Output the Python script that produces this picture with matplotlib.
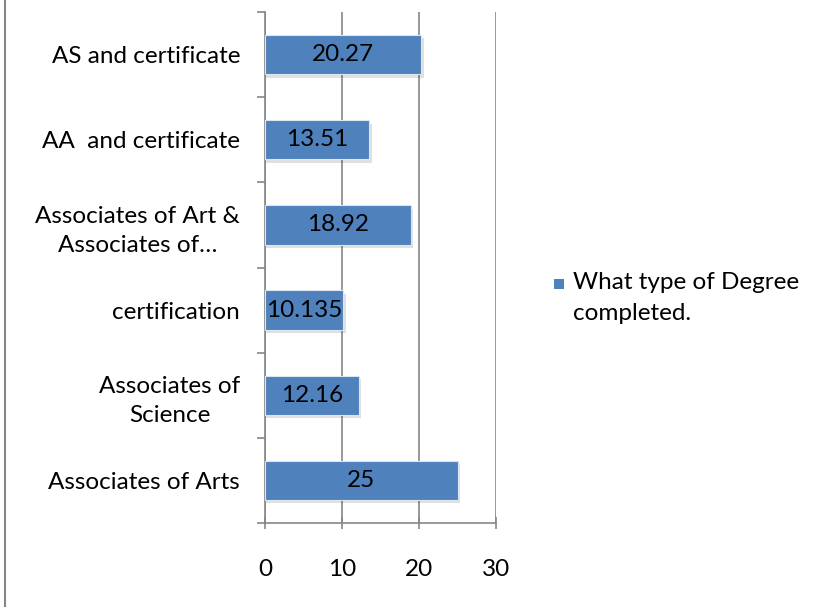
import numpy as np
import matplotlib
matplotlib.use('Agg')
import matplotlib.pyplot as plt
from matplotlib.lines import Line2D
from matplotlib.patches import Rectangle

# 数据（从下到上）
categories = ['Associates of Arts', 'Associates of\nScience', 'certification',
              'Associates of Art &\nAssociates of\u2026', 'AA  and certificate', 'AS and certificate']
values = [25, 12.16, 10.135, 18.92, 13.51, 20.27]
value_labels = ['25', '12.16', '10.135', '18.92', '13.51', '20.27']
series_name = 'What type of Degree\ncompleted.'
x_ticks = [0, 10, 20, 30]

plt.rcParams['font.family'] = ['Lato', 'DejaVu Sans']
bar_color = '#4F81BD'
grid_color = '#868686'
fs = 17.5

fig = plt.figure(figsize=(8.23, 6.07), dpi=100)
ax = fig.add_axes([265 / 823, 1 - 523 / 607, (496 - 265) / 823, (523 - 12) / 607])

y = np.arange(len(categories))
# 阴影
ax.barh(y - 0.04, [v + 0.35 for v in values], height=0.46, color='#000000', alpha=0.12,
        zorder=2)
bars = ax.barh(y, values, height=0.46, color=bar_color, edgecolor='#DCE6F2', linewidth=0.8, zorder=3)
for yi, v, lab in zip(y, values, value_labels):
    ax.text(v / 2, yi, lab, ha='center', va='center', fontsize=fs, color='black', zorder=4)

ax.set_xlim(0, 30)
ax.set_ylim(-0.5, len(categories) - 0.5)
ax.set_xticks(x_ticks)
ax.set_xticklabels([str(t) for t in x_ticks], fontsize=fs)
ax.set_yticks(np.arange(len(categories) + 1) - 0.5, minor=False)
ax.set_yticklabels([])
ax.set_yticks(y, minor=True)
ax.set_yticklabels(categories, minor=True, fontsize=fs, multialignment='center',
                   linespacing=1.45)
ax.tick_params(axis='y', which='minor', length=0, pad=18)
ax.tick_params(axis='y', which='major', length=6, color=grid_color, width=1.2, direction='out')
ax.tick_params(axis='x', length=8, color=grid_color, width=1.2, direction='inout', pad=22)

ax.xaxis.grid(True, color=grid_color, linewidth=1.2, zorder=0)
ax.set_axisbelow(True)
for s in ['top', 'right']:
    ax.spines[s].set_visible(False)
for s in ['left', 'bottom']:
    ax.spines[s].set_color(grid_color)
    ax.spines[s].set_linewidth(1.2)

# 图例（标记与第一行对齐）
fig.add_artist(Rectangle((554 / 823, 1 - 289 / 607), 10 / 823, 10 / 607,
                         facecolor=bar_color, edgecolor='none'))
fig.text(573 / 823, 1 - 298 / 607, series_name, fontsize=fs, va='center', ha='left',
         linespacing=1.55)

# 左侧边框线
fig.add_artist(Line2D([5 / 823, 5 / 823], [0, 1], color=grid_color, linewidth=1.5))

fig.savefig('out.png', dpi=100)
